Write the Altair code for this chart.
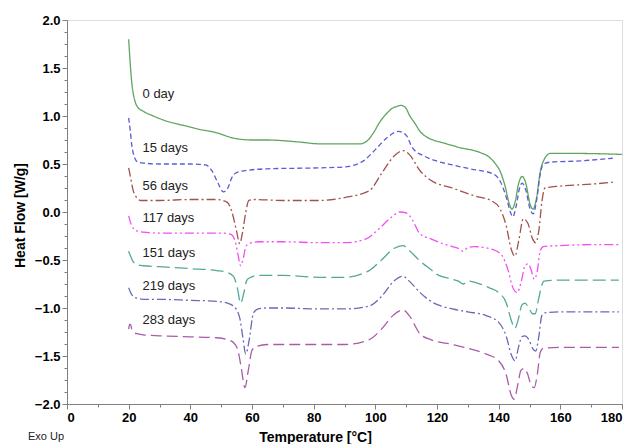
import altair as alt
import pandas as pd

series_names = ["0 day", "15 days", "56 days", "117 days", "151 days", "219 days", "283 days"]
colors = ["#5fa55f", "#5b5bd6", "#a0524f", "#f050f0", "#55a898", "#6a68b4", "#a85ca8"]
dashes = [[1, 0], [5, 3], [9, 3, 2, 3], [9, 3, 2, 3, 2, 3], [13, 5], [9, 3, 2, 3], [11, 5]]

t_0 = [20, 20.5, 21, 22, 23, 24.7, 28, 32, 38, 43, 48, 54, 60, 65, 75, 82, 90, 95, 97.3, 99.3, 101.5, 103.5, 105.5, 107,
       108.3, 109.7, 111.2, 112.9, 114.5, 116.7, 118.7, 122, 127.5, 134, 137, 139, 140.4, 142, 143.5, 144.3, 145.3,
       146.5, 147.6, 148.8, 150.2, 151.2, 152.3, 153.5, 154.5, 156.7, 165, 180]
hf_0 = [1.80, 1.55, 1.35, 1.16, 1.09, 1.05, 1.00, 0.95, 0.90, 0.86, 0.83, 0.77, 0.75, 0.75, 0.73, 0.71, 0.71, 0.71, 0.74,
        0.82, 0.94, 1.02, 1.08, 1.10, 1.11, 1.09, 1.00, 0.92, 0.84, 0.78, 0.75, 0.72, 0.67, 0.62, 0.57, 0.50, 0.43, 0.28,
        0.08, 0.03, 0.10, 0.30, 0.37, 0.30, 0.08, 0.03, 0.15, 0.42, 0.53, 0.61, 0.61, 0.60]

t_15 = [20, 20.5, 21, 22, 23, 24.7, 30, 40, 45, 47, 49, 50.7, 52, 53.5, 55, 60, 65, 82, 90, 96, 100, 104, 107.5, 110, 112,
        116, 120, 125, 130.7, 138, 140.5, 142.5, 143.8, 144.6, 145.6, 146.7, 147.6, 148.7, 150.2, 151.2, 152.3, 153.5,
        154.5, 157, 165, 177]
hf_15 = [0.98, 0.85, 0.70, 0.56, 0.52, 0.51, 0.50, 0.50, 0.49, 0.43, 0.30, 0.21, 0.24, 0.36, 0.41, 0.44, 0.45, 0.46, 0.47,
         0.53, 0.65, 0.78, 0.84, 0.80, 0.67, 0.58, 0.53, 0.49, 0.45, 0.40, 0.32, 0.15, 0.00, -0.05, 0.05, 0.24, 0.30, 0.24,
         0.03, -0.02, 0.12, 0.40, 0.50, 0.52, 0.53, 0.56]

t_56 = [20, 20.5, 21.5, 22.6, 24, 30, 40, 48.6, 52, 53.5, 55, 56, 57, 58, 59, 61, 70, 82, 90, 98, 102, 106, 109, 111, 114.5,
        118, 125, 132, 138, 140.5, 142.5, 144, 145.3, 146.5, 148, 149.5, 151, 152, 153, 154, 155, 160, 170, 177]
hf_56 = [0.46, 0.38, 0.22, 0.15, 0.12, 0.12, 0.13, 0.13, 0.10, 0.00, -0.20, -0.33, -0.20, 0.00, 0.12, 0.13, 0.12, 0.12,
         0.15, 0.22, 0.40, 0.58, 0.64, 0.60, 0.43, 0.33, 0.25, 0.17, 0.11, 0.03, -0.15, -0.38, -0.46, -0.30, -0.07, -0.12,
         -0.28, -0.32, -0.20, 0.10, 0.25, 0.27, 0.29, 0.31]

t_117 = [20, 20.5, 21.5, 23, 24.7, 30, 40, 50, 53, 54.5, 55.5, 56.3, 57.2, 58, 59, 62, 70, 82, 90, 97, 101, 105, 108, 110,
         112, 114.5, 118, 121, 125, 127, 128.5, 130, 132, 138, 141, 143, 144.5, 146, 147.5, 148.5, 149.5, 150.5, 151.5,
         152.5, 153.5, 154.5, 160, 170, 179]
hf_117 = [-0.04, -0.10, -0.17, -0.20, -0.21, -0.22, -0.22, -0.22, -0.23, -0.30, -0.45, -0.56, -0.48, -0.36, -0.33, -0.31,
          -0.31, -0.32, -0.32, -0.28, -0.18, -0.06, 0.00, -0.01, -0.08, -0.23, -0.28, -0.32, -0.36, -0.38, -0.41, -0.37,
          -0.36, -0.39, -0.45, -0.60, -0.78, -0.84, -0.70, -0.56, -0.54, -0.60, -0.70, -0.62, -0.40, -0.36, -0.35, -0.34,
          -0.34]

t_151 = [20, 20.5, 21.5, 23, 24.7, 30, 40, 48.6, 52, 54, 55.3, 56.3, 57.3, 58.2, 59, 62, 70, 82, 90, 98, 102, 106, 109,
         111, 114.5, 118, 120, 125, 127, 128.5, 130, 133, 137, 140, 142.5, 144, 145.3, 146.5, 147.5, 148.5, 149.8, 151,
         151.8, 153, 154, 154.7, 160, 170, 179]
hf_151 = [-0.41, -0.45, -0.52, -0.55, -0.56, -0.57, -0.59, -0.61, -0.63, -0.67, -0.80, -0.95, -0.85, -0.72, -0.69, -0.66,
          -0.66, -0.68, -0.68, -0.61, -0.50, -0.38, -0.35, -0.40, -0.51, -0.60, -0.65, -0.70, -0.72, -0.75, -0.72, -0.74,
          -0.79, -0.84, -0.95, -1.12, -1.21, -1.10, -0.97, -0.95, -1.00, -1.06, -1.06, -0.90, -0.76, -0.72, -0.71, -0.71,
          -0.71]

t_219 = [20, 20.5, 21.5, 23, 24.7, 30, 40, 48.6, 52, 54, 56, 57, 58, 59, 60.5, 62, 65, 70, 82, 90, 98, 102, 106, 109, 111,
         114.5, 118, 125, 130, 136, 140, 142.5, 144, 145.3, 146.5, 147.5, 148.5, 149.8, 151, 152, 153, 154, 155, 160, 170,
         179]
hf_219 = [-0.79, -0.83, -0.88, -0.90, -0.91, -0.91, -0.92, -0.93, -0.95, -0.98, -1.10, -1.30, -1.48, -1.35, -1.05, -1.01,
          -1.00, -1.00, -1.01, -1.01, -0.98, -0.88, -0.72, -0.67, -0.72, -0.84, -0.93, -1.01, -1.04, -1.08, -1.15, -1.30,
          -1.48, -1.55, -1.40, -1.30, -1.29, -1.33, -1.42, -1.45, -1.30, -1.08, -1.05, -1.04, -1.04, -1.04]

t_283 = [20, 20.3, 20.6, 21, 22, 23, 24.7, 30, 40, 48.6, 52, 54, 55.5, 56.5, 57.7, 58.8, 60, 61.5, 65, 70, 82, 90, 98, 102,
         106, 109, 111, 114.5, 118, 125, 130, 136, 140, 142.5, 144, 145, 146.2, 147.2, 148.2, 149.3, 150.5, 151.5, 152.5,
         153.5, 154.5, 160, 170, 179]
hf_283 = [-1.22, -1.17, -1.17, -1.22, -1.26, -1.27, -1.28, -1.29, -1.30, -1.31, -1.33, -1.36, -1.45, -1.62, -1.83, -1.65,
          -1.44, -1.40, -1.38, -1.38, -1.38, -1.38, -1.33, -1.22, -1.07, -1.02, -1.08, -1.27, -1.33, -1.38, -1.42, -1.48,
          -1.55, -1.70, -1.90, -1.95, -1.80, -1.65, -1.63, -1.68, -1.80, -1.83, -1.70, -1.46, -1.42, -1.41, -1.41, -1.41]

label_x = [24.5] * 7
label_y = [1.23, 0.67, 0.27, -0.06, -0.43, -0.77, -1.13]

x_major = list(range(0, 181, 20))
x_minor = list(range(0, 181, 10))
y_major = [-2.0, -1.5, -1.0, -0.5, 0.0, 0.5, 1.0, 1.5, 2.0]
y_minor = [-2.0 + 0.125 * i for i in range(33)]

all_t = [t_0, t_15, t_56, t_117, t_151, t_219, t_283]
all_hf = [hf_0, hf_15, hf_56, hf_117, hf_151, hf_219, hf_283]
rows = []
for name, ts, hs in zip(series_names, all_t, all_hf):
    for i, (t, h) in enumerate(zip(ts, hs)):
        rows.append({"series": name, "T": t, "HF": h, "i": i})
df = pd.DataFrame(rows)
labels_df = pd.DataFrame({"series": series_names, "T": label_x, "HF": label_y})

FONT = "Liberation Sans"
xscale = alt.Scale(domain=[0, 180], nice=False, zero=False)
yscale = alt.Scale(domain=[-2, 2], nice=False, zero=False)

common_axis = dict(domainColor="#808080", tickColor="#808080", grid=False, labelColor="black",
                   labelFont=FONT, labelFontSize=13, labelFontWeight="bold", titleFont=FONT,
                   titleFontSize=14, titleFontWeight="bold", titleColor="black")

lines = alt.Chart(df).mark_line(strokeWidth=1.3, interpolate="monotone").encode(
    x=alt.X("T:Q", scale=xscale, axis=alt.Axis(orient="bottom", values=x_major, format="d", tickSize=5,
                                               title="Temperature [°C]", titleX=248, titleY=33,
                                               titleAlign="center", titleBaseline="middle", labelPadding=2,
                                               **common_axis)),
    y=alt.Y("HF:Q", scale=yscale, axis=alt.Axis(orient="left", values=y_major, format=".1f", tickSize=5,
                                                title="Heat Flow [W/g]", titleX=-47, titleY=195, titleAngle=-90,
                                                titleAlign="center", titleBaseline="middle", labelPadding=2,
                                                **common_axis)),
    color=alt.Color("series:N", scale=alt.Scale(domain=series_names, range=colors), legend=None),
    strokeDash=alt.StrokeDash("series:N", scale=alt.Scale(domain=series_names, range=dashes), legend=None),
    order=alt.Order("i:Q"),
)

minor_axes = alt.Chart(df).mark_point(opacity=0).encode(
    x=alt.X("T:Q", scale=xscale, axis=alt.Axis(orient="bottom", values=x_minor, labels=False, tickSize=3,
                                               domain=False, title=None, grid=False, tickColor="#808080")),
    y=alt.Y("HF:Q", scale=yscale, axis=alt.Axis(orient="left", values=y_minor, labels=False, tickSize=3,
                                                domain=False, title=None, grid=False, tickColor="#808080")),
)

texts = alt.Chart(labels_df).mark_text(align="left", baseline="middle", font=FONT, fontSize=13,
                                       color="#222222").encode(
    x=alt.X("T:Q", scale=xscale, axis=None),
    y=alt.Y("HF:Q", scale=yscale, axis=None),
    text="series:N",
)

exo = alt.Chart(pd.DataFrame({"t": ["Exo Up"]})).mark_text(
    align="left", baseline="middle", font=FONT, fontSize=11, color="#222222"
).encode(text="t:N", x=alt.value(-39), y=alt.value(417))

chart = alt.layer(minor_axes, lines, texts, exo).resolve_axis(
    x="independent", y="independent"
).properties(
    width=555, height=384,
    autosize=alt.AutoSizeParams(type="none"),
    padding={"left": 67, "top": 20, "right": 16, "bottom": 40},
).configure_view(stroke="#808080", strokeWidth=1).configure_axis(
    labelFontWeight="bold", labelFont=FONT, labelFontSize=13, labelColor="black"
).configure(background="white")

chart.save("out.html", embed_options={"renderer": "svg", "actions": False})
